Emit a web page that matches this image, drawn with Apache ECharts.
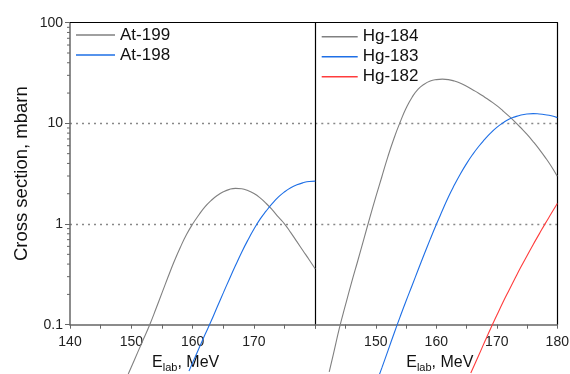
<!DOCTYPE html>
<html>
<head>
<meta charset="utf-8">
<script src="https://cdn.jsdelivr.net/npm/echarts@6/dist/echarts.min.js"></script>
<style>
html,body{margin:0;padding:0;background:#fff;}
#chart{width:570px;height:374px;}
</style>
</head>
<body>
<div id="chart"></div>
<script>
// ---- data (E_lab in MeV, cross section in mbarn) ----
const at199 = [[149.5,0.0324],[150,0.0380],[151,0.0525],[152,0.0724],[153,0.100],[154,0.143],[155,0.207],[156,0.299],[157,0.427],[158,0.589],[159,0.785],[160,1.00],[161,1.23],[162,1.48],[163,1.71],[164,1.92],[165,2.09],[166,2.21],[167,2.26],[168,2.24],[169,2.15],[170,2.01],[171,1.82],[172,1.60],[173,1.38],[174,1.17],[175,1.00],[176,0.822],[177,0.668],[178,0.543],[179,0.442],[180,0.357]];
const at198 = [[159.4,0.0347],[160,0.0420],[161,0.0577],[162,0.0794],[163,0.108],[164,0.150],[165,0.207],[166,0.285],[167,0.389],[168,0.525],[169,0.692],[170,0.891],[171,1.12],[172,1.35],[173,1.60],[174,1.86],[175,2.09],[176,2.29],[177,2.45],[178,2.57],[179,2.65],[180,2.67]];
const hg184 = [[142.3,0.0339],[143,0.0513],[144,0.0933],[145,0.158],[146,0.263],[147,0.427],[148,0.700],[149,1.15],[150,1.86],[151,2.95],[152,4.68],[153,7.08],[154,10.2],[155,14.1],[156,18.2],[157,21.9],[158,24.5],[159,26.3],[160,27.2],[161,27.5],[162,27.2],[163,26.3],[164,25.1],[165,23.4],[166,21.6],[167,19.95],[168,18.2],[169,16.6],[170,15.0],[171,13.35],[172,11.8],[173,10.35],[174,9.00],[175,7.76],[176,6.60],[177,5.55],[178,4.60],[179,3.75],[180,2.98]];
const hg183 = [[150.5,0.0309],[151,0.0372],[152,0.0550],[153,0.0813],[154,0.119],[155,0.172],[156,0.245],[157,0.351],[158,0.501],[159,0.708],[160,0.989],[161,1.36],[162,1.86],[163,2.45],[164,3.16],[165,3.98],[166,4.90],[167,5.89],[168,6.92],[169,8.04],[170,9.12],[171,10.1],[172,11.0],[173,11.6],[174,12.1],[175,12.4],[176,12.5],[177,12.4],[178,12.2],[179,11.9],[180,11.4]];
const hg182 = [[165.7,0.0331],[166,0.0363],[167,0.0495],[168,0.0676],[169,0.0923],[170,0.124],[171,0.166],[172,0.219],[173,0.288],[174,0.376],[175,0.484],[176,0.624],[177,0.794],[178,1.01],[179,1.27],[180,1.60]];
const leftSeriesNames = ['At-199','At-198'];
const rightSeriesNames = ['Hg-184','Hg-183','Hg-182'];
const leftXLabels = [140,150,160,170];
const rightXLabels = [150,160,170,180];
const yLabels = ['0.1','1','10','100'];
const yMinorTicks = [0.2,0.3,0.4,0.5,0.6,0.7,0.8,0.9,2,3,4,5,6,7,8,9,20,30,40,50,60,70,80,90];
const xRange = [140,180];
const yRange = [0.1,100];

const FONT = 'Liberation Sans, Arial, Helvetica, sans-serif';
const GREY = '#666666';
const C_GREY = '#808080', C_BLUE = '#1e6fe6', C_RED = '#ff3c3c';

const chart = echarts.init(document.getElementById('chart'), null, {renderer:'canvas'});

function bottomX(grid, labels, padding){
  return {
    gridIndex: grid, type:'value', min:xRange[0], max:xRange[1], interval:10, position:'bottom',
    axisLine:{show:true, onZero:false, lineStyle:{color:GREY, width:1.5}},
    axisTick:{show:true, length:4, lineStyle:{color:GREY, width:1}},
    minorTick:{show:true, splitNumber:2, length:4, lineStyle:{color:GREY, width:1}},
    splitLine:{show:false},
    axisLabel:{fontSize:14, color:'#222', fontFamily:FONT, margin:10,
      formatter: v => labels.includes(v) ? String(v) : ''},
    name:'{e|E}{s|lab}{e|, MeV}', nameLocation:'middle', nameGap:27,
    nameTextStyle:{padding:padding, rich:{
      e:{fontSize:16, fontFamily:FONT, color:'#111'},
      s:{fontSize:11, fontFamily:FONT, color:'#111', padding:[11,0,0,0]}
    }}
  };
}
function topX(grid){
  return {gridIndex:grid, type:'value', min:xRange[0], max:xRange[1], position:'top',
    axisLine:{show:true, onZero:false, lineStyle:{color:'#000', width:1.2}},
    axisTick:{show:false}, axisLabel:{show:false}, splitLine:{show:false}};
}
function yAx(grid, pos, opts){
  return Object.assign({gridIndex:grid, type:'log', logBase:10, min:yRange[0], max:yRange[1], position:pos,
    axisLine:{show:false}, axisTick:{show:false}, axisLabel:{show:false}, splitLine:{show:false}}, opts||{});
}
const dotted = {show:true, showMinLine:false, showMaxLine:false, lineStyle:{color:'#888', width:1.3, type:[2,4]}};
const legendText = {fontSize:17, fontFamily:FONT, color:'#111', lineHeight:20};

const option = {
  animation:false,
  backgroundColor:'#fff',
  grid:[
    {left:70, top:22.7, width:245.3, height:302, containLabel:false, outerBoundsMode:'none'},
    {left:315.3, top:22.7, width:242, height:302, containLabel:false, outerBoundsMode:'none'}
  ],
  legend:[
    {data:leftSeriesNames, left:76, top:25, orient:'vertical', padding:0, itemGap:0, itemWidth:39, itemHeight:1.5,
     icon:'rect', textStyle:legendText},
    {data:rightSeriesNames, left:321.7, top:26.7, orient:'vertical', padding:0, itemGap:0, itemWidth:36, itemHeight:1.5,
     icon:'rect', textStyle:legendText}
  ],
  xAxis:[ bottomX(0, leftXLabels, [0,14,0,0]), topX(0), bottomX(1, rightXLabels, [0,0,0,7]), topX(1) ],
  yAxis:[
    yAx(0,'left',{
      axisLine:{show:true, onZero:false, lineStyle:{color:GREY, width:1.5}},
      axisTick:{show:true, length:5, lineStyle:{color:GREY, width:1}},
      axisLabel:{show:true, fontSize:14, color:'#222', fontFamily:FONT, margin:7,
        formatter:(v, i) => yLabels[i] !== undefined ? yLabels[i] : ''},
      splitLine:dotted,
      name:'Cross section, mbarn', nameLocation:'middle', nameGap:39, nameRotate:90,
      nameTextStyle:{fontSize:18.5, fontFamily:FONT, color:'#111'}
    }),
    yAx(0,'right',{axisLine:{show:true, onZero:false, lineStyle:{color:'#000', width:1.2}}}),
    yAx(1,'left',{splitLine:dotted}),
    yAx(1,'right',{axisLine:{show:true, onZero:false, lineStyle:{color:'#000', width:1.2}}})
  ],
  series:[
    {name:'At-199', type:'line', xAxisIndex:0, yAxisIndex:0, data:at199, smooth:true, symbol:'none', clip:false,
     lineStyle:{color:C_GREY, width:1.1}, itemStyle:{color:C_GREY}},
    {name:'At-198', type:'line', xAxisIndex:0, yAxisIndex:0, data:at198, smooth:true, symbol:'none', clip:false,
     lineStyle:{color:C_BLUE, width:1.1}, itemStyle:{color:C_BLUE}},
    {name:'Hg-184', type:'line', xAxisIndex:2, yAxisIndex:2, data:hg184, smooth:true, symbol:'none', clip:false,
     lineStyle:{color:C_GREY, width:1.1}, itemStyle:{color:C_GREY}},
    {name:'Hg-183', type:'line', xAxisIndex:2, yAxisIndex:2, data:hg183, smooth:true, symbol:'none', clip:false,
     lineStyle:{color:C_BLUE, width:1.1}, itemStyle:{color:C_BLUE}},
    {name:'Hg-182', type:'line', xAxisIndex:2, yAxisIndex:2, data:hg182, smooth:true, symbol:'none', clip:false,
     lineStyle:{color:C_RED, width:1.1}, itemStyle:{color:C_RED}},
    {name:'yMinor', type:'custom', xAxisIndex:0, yAxisIndex:0, clip:false, silent:true,
     data: yMinorTicks.map(v => [xRange[0], v]),
     renderItem:(params, api) => {
       const p = api.coord([api.value(0), api.value(1)]);
       return {type:'line', shape:{x1:p[0]-3, y1:p[1], x2:p[0], y2:p[1]}, style:{stroke:GREY, lineWidth:1}};
     }}
  ]
};
chart.setOption(option);
</script>
</body>
</html>
